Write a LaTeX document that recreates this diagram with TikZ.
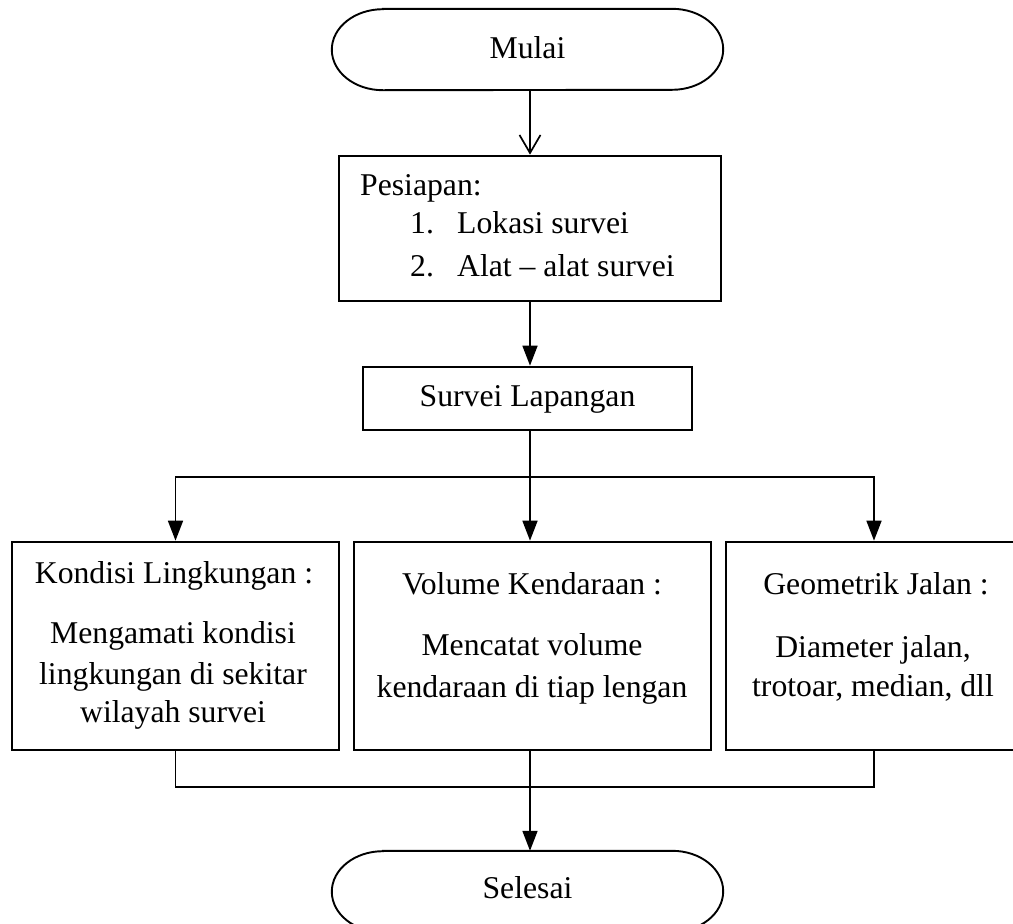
\documentclass[tikz,border=0pt]{standalone}
\usepackage{fontspec}
\setmainfont{Liberation Serif}
\usetikzlibrary{arrows.meta}

\newcommand\drawterminal[1]{%
  \draw[termline] ([xshift=51pt]#1.north west) -- ([xshift=-51pt]#1.north east)
    arc[start angle=90, end angle=-90, x radius=51pt, y radius=40.5pt]
    -- ([xshift=51pt]#1.south west)
    arc[start angle=270, end angle=90, x radius=51pt, y radius=40.5pt] -- cycle;}

\tikzset{
  txt/.style={font=\fontsize{31.7pt}{38pt}\selectfont, inner sep=0pt, anchor=base},
  boxframe/.style={draw, line width=2.7pt, inner sep=0pt},
  termframe/.style={inner sep=0pt},
  termline/.style={line width=1.9pt},
  link/.style={line width=1.7pt},
  arrow/.style={link, -{Triangle[length=20pt, width=15pt]}},
  barb/.style={link, -{Straight Barb[length=18pt, width=21pt, line width=1.7pt]}},
}

\begin{document}
\begin{tikzpicture}[x=1pt, y=-1pt]
\useasboundingbox (0,0) rectangle (1013,924);

% start / end terminals
\node[termframe, minimum width=391pt, minimum height=81pt] (mulai) at (527.5,49.5) {};
\drawterminal{mulai}
\node[txt] (tmulai) at (527.5,58) {Mulai};

\node[termframe, minimum width=391pt, minimum height=81pt] (selesai) at (527.5,891.5) {};
\drawterminal{selesai}
\node[txt] (tselesai) at (527.5,898) {Selesai};

% preparation
\node[boxframe, minimum width=382pt, minimum height=145pt] (prep) at (530,228.5) {};
\node[txt, anchor=base west] (tprep) at (360,195) {Pesiapan:};
\node[txt, anchor=base west] (n1) at (410,233) {1.};
\node[txt, anchor=base west] (l1) at (457,233) {Lokasi survei};
\node[txt, anchor=base west] (n2) at (410,276) {2.};
\node[txt, anchor=base west] (l2) at (457,276) {Alat -- alat survei};

% field survey
\node[boxframe, minimum width=329pt, minimum height=63pt] (survei) at (527.5,398.5) {};
\node[txt] (tsurvei) at (527.5,406) {Survei Lapangan};

% three survey items
\node[boxframe, minimum width=327pt, minimum height=208pt] (kondisi) at (175.5,646) {};
\node[txt] (tk0) at (174,583) {Kondisi Lingkungan :};
\node[txt] (tk1) at (173,643) {Mengamati kondisi};
\node[txt] (tk2) at (173,684) {lingkungan di sekitar};
\node[txt] (tk3) at (173,722) {wilayah survei};

\node[boxframe, minimum width=357pt, minimum height=208pt] (volume) at (532.5,646) {};
\node[txt] (tv0) at (532,594) {Volume Kendaraan :};
\node[txt] (tv1) at (532,655) {Mencatat volume};
\node[txt] (tv2) at (532,697) {kendaraan di tiap lengan};

\node[boxframe, minimum width=296pt, minimum height=208pt] (geom) at (874,646) {};
\node[txt] (tg0) at (876,594) {Geometrik Jalan :};
\node[txt] (tg1) at (873,657) {Diameter jalan,};
\node[txt] (tg2) at (873,696) {trotoar, median, dll};

% connectors
\coordinate (split) at (530,477);
\coordinate (join) at (530,787);

\draw[barb] (mulai.south -| prep.north) -- (prep.north);
\draw[arrow] (prep.south) -- (prep.south |- survei.north);
\draw[link] (survei.south -| split) -- (split);
\draw[arrow] (split) -| (kondisi.north);
\draw[arrow] (split) -| (geom.north);
\draw[arrow] (split) -- (split |- volume.north);

\draw[link] (kondisi.south) |- (join) -| (geom.south);
\draw[arrow] (volume.south -| join) -- (join |- selesai.north);
\end{tikzpicture}
\end{document}
